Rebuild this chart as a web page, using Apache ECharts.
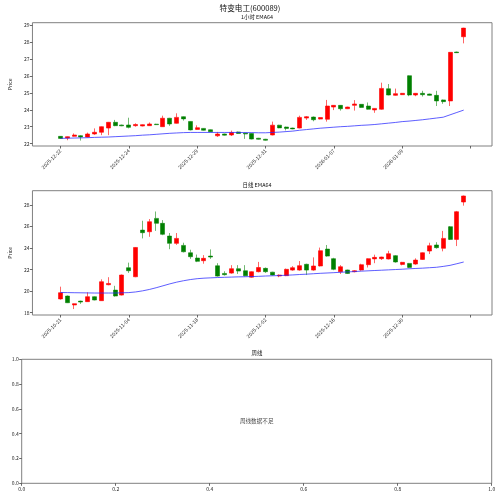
<!DOCTYPE html>
<html><head><meta charset="utf-8">
<script src="https://cdn.jsdelivr.net/npm/echarts@6/dist/echarts.min.js"></script>
<style>html,body{margin:0;padding:0;background:#fff}#c{width:500px;height:497px}</style>
</head><body><div id="c"></div>
<script>
// ---------- DATA ----------
const hourlyDates = [
 '2025-12-22','2025-12-22','2025-12-22','2025-12-22',
 '2025-12-23','2025-12-23','2025-12-23','2025-12-23',
 '2025-12-24','2025-12-24','2025-12-24','2025-12-24',
 '2025-12-25','2025-12-25','2025-12-25','2025-12-25',
 '2025-12-26','2025-12-26','2025-12-26','2025-12-26',
 '2025-12-29','2025-12-29','2025-12-29','2025-12-29',
 '2025-12-30','2025-12-30','2025-12-30','2025-12-30',
 '2025-12-31','2025-12-31','2025-12-31','2025-12-31',
 '2026-01-05','2026-01-05','2026-01-05','2026-01-05',
 '2026-01-06','2026-01-06','2026-01-06','2026-01-06',
 '2026-01-07','2026-01-07','2026-01-07','2026-01-07',
 '2026-01-08','2026-01-08','2026-01-08','2026-01-08',
 '2026-01-09','2026-01-09','2026-01-09','2026-01-09',
 '2026-01-12','2026-01-12','2026-01-12','2026-01-12',
 '2026-01-13','2026-01-13','2026-01-13','2026-01-13'
];
// [open, close, low, high]
const hourlyOHLC = [
 [22.43,22.31,22.29,22.45],[22.33,22.41,22.20,22.43],[22.43,22.51,22.41,22.60],[22.47,22.39,22.18,22.50],
 [22.39,22.57,22.37,22.65],[22.57,22.67,22.52,22.90],[22.67,23.00,22.50,23.02],[22.92,23.26,22.50,23.28],
 [23.26,23.06,23.03,23.40],[23.10,23.05,23.03,23.12],[23.10,22.96,22.90,23.53],[23.06,23.13,23.00,23.20],
 [23.04,23.12,23.02,23.14],[23.06,23.16,23.04,23.25],[23.15,23.12,23.10,23.17],[23.00,23.50,22.98,23.65],
 [23.50,23.16,23.05,23.52],[23.20,23.55,23.18,23.79],[23.59,23.46,23.36,23.61],[23.31,22.81,22.78,23.33],
 [22.84,22.94,22.82,23.08],[22.90,22.79,22.77,22.92],[22.82,22.70,22.68,22.84],[22.46,22.57,22.40,22.69],
 [22.57,22.50,22.48,22.59],[22.51,22.66,22.45,22.77],[22.69,22.60,22.58,22.71],[22.62,22.57,22.28,22.64],
 [22.60,22.27,22.25,22.62],[22.32,22.26,22.24,22.34],[22.26,22.20,22.18,22.28],[22.51,23.09,22.49,23.30],
 [23.09,22.93,22.91,23.11],[22.98,22.90,22.78,23.00],[22.92,22.87,22.85,22.94],[22.92,23.55,22.90,23.65],
 [23.51,23.59,23.40,23.63],[23.57,23.41,23.32,23.60],[23.45,23.54,23.43,23.56],[23.44,24.22,23.30,24.58],
 [24.16,24.26,23.98,24.28],[24.26,24.06,23.95,24.28],[24.06,24.16,24.04,24.18],[24.26,24.34,23.95,24.57],
 [24.32,24.14,24.12,24.34],[24.22,24.03,24.01,24.43],[23.99,24.08,23.82,24.10],[24.03,25.26,24.00,25.60],
 [25.24,24.87,24.85,25.52],[24.85,24.95,24.83,25.25],[24.89,24.97,24.87,24.99],[26.01,24.87,24.80,26.03],
 [24.87,24.97,24.80,24.99],[24.97,24.89,24.78,25.12],[24.93,24.85,24.83,24.95],[24.85,24.52,24.22,25.12],
 [24.58,24.48,24.35,24.60],[24.52,27.39,24.22,27.41],[27.41,27.37,27.35,27.43],[28.31,28.82,27.92,28.84]
];
const hourlyEMA = [
 22.31,22.32,22.33,22.34,22.35,22.37,22.38,22.39,22.41,22.43,
 22.45,22.47,22.50,22.52,22.55,22.58,22.61,22.63,22.65,22.66,
 22.66,22.66,22.66,22.66,22.66,22.66,22.66,22.65,22.65,22.64,
 22.64,22.66,22.68,22.71,22.74,22.79,22.83,22.87,22.91,22.94,
 22.97,23.00,23.02,23.05,23.08,23.10,23.13,23.17,23.21,23.25,
 23.30,23.33,23.37,23.41,23.46,23.51,23.56,23.70,23.84,23.98
];
const dailyDates = [
 '2025-10-21','2025-10-22','2025-10-23','2025-10-24','2025-10-27','2025-10-28','2025-10-29','2025-10-30','2025-10-31','2025-11-03',
 '2025-11-04','2025-11-05','2025-11-06','2025-11-07','2025-11-10','2025-11-11','2025-11-12','2025-11-13','2025-11-14','2025-11-17',
 '2025-11-18','2025-11-19','2025-11-20','2025-11-21','2025-11-24','2025-11-25','2025-11-26','2025-11-27','2025-11-28','2025-12-01',
 '2025-12-02','2025-12-03','2025-12-04','2025-12-05','2025-12-08','2025-12-09','2025-12-10','2025-12-11','2025-12-12','2025-12-15',
 '2025-12-16','2025-12-17','2025-12-18','2025-12-19','2025-12-22','2025-12-23','2025-12-24','2025-12-25','2025-12-26','2025-12-29',
 '2025-12-30','2025-12-31','2026-01-05','2026-01-06','2026-01-07','2026-01-08','2026-01-09','2026-01-12','2026-01-13','2026-01-14'
];
const dailyOHLC = [
 [19.28,19.86,19.22,20.42],[19.55,18.93,18.90,19.60],[18.72,18.84,18.34,18.86],[19.08,18.99,18.82,19.12],
 [19.03,19.49,19.00,19.90],[19.49,19.18,19.15,19.52],[19.12,20.88,19.10,21.10],[20.60,20.72,20.55,21.30],
 [20.10,19.55,19.50,20.50],[19.64,21.50,19.60,21.55],[22.18,21.90,21.70,22.65],[21.34,24.06,21.30,24.10],
 [25.67,25.43,24.90,26.54],[25.52,26.45,25.05,26.70],[26.76,26.30,25.60,27.40],[26.30,25.28,25.20,26.60],
 [25.12,24.44,23.90,25.40],[24.44,24.90,24.30,25.40],[24.25,23.66,23.60,24.50],[23.57,23.20,23.00,23.85],
 [23.08,22.77,22.70,23.40],[22.83,23.05,22.55,23.35],[23.26,23.17,23.00,23.88],[22.36,21.40,21.35,22.60],
 [21.65,21.53,21.45,21.85],[21.68,22.09,21.62,22.42],[22.09,21.87,21.60,22.42],[21.90,21.43,21.38,22.42],
 [21.30,21.81,21.25,21.85],[21.81,22.20,21.75,22.72],[22.12,21.81,21.70,22.20],[21.77,21.50,21.45,21.80],
 [21.41,21.50,21.30,21.55],[21.44,22.03,21.40,22.10],[21.96,22.18,21.90,22.33],[21.96,22.37,21.90,22.80],
 [22.50,21.96,21.50,22.55],[21.96,22.34,21.90,23.14],[22.34,23.76,22.30,24.05],[23.91,23.26,23.20,24.29],
 [23.02,22.03,21.95,23.10],[21.81,22.27,21.60,22.42],[21.97,21.65,21.60,22.00],[21.81,21.90,21.75,21.95],
 [21.96,22.46,21.90,22.55],[22.46,23.02,22.20,23.05],[23.00,23.14,22.60,23.39],[23.02,23.17,22.90,23.20],
 [22.99,23.48,22.95,23.75],[23.30,22.71,22.65,23.35],[22.49,22.68,22.40,22.72],[22.58,22.21,22.15,22.62],
 [22.52,22.89,22.45,23.05],[22.95,23.57,22.90,23.60],[23.73,24.22,23.45,24.50],[24.29,24.04,23.95,24.55],
 [23.98,24.90,23.70,25.60],[25.99,24.81,24.75,26.05],[24.81,27.38,24.19,27.45],[28.28,28.84,27.94,28.88]
];
const dailyEMA = [
 19.88,19.87,19.86,19.85,19.84,19.83,19.83,19.83,19.83,19.85,
 19.87,19.93,20.03,20.16,20.32,20.50,20.68,20.84,20.97,21.08,
 21.16,21.21,21.24,21.27,21.29,21.31,21.33,21.34,21.36,21.38,
 21.41,21.43,21.45,21.48,21.51,21.55,21.58,21.62,21.66,21.69,
 21.72,21.76,21.79,21.82,21.86,21.89,21.92,21.95,21.98,22.01,
 22.04,22.08,22.11,22.14,22.18,22.22,22.30,22.40,22.55,22.71
];
const hourlyYTicks = [22,23,24,25,26,27,28,29];
const dailyYTicks = [18,20,22,24,26,28];
const xTickStep = 10;
const weeklyMessage = '周线数据不足';

// ---------- CHART ----------
const FONT = '"Noto Sans CJK SC", "DejaVu Sans", sans-serif';
const TICKFS = 5;
const upColor = '#ff0000', downColor = '#008000';

function xTicks(n){ const a=[]; for(let v=0; v<=n; v+=xTickStep) a.push(v); return a; }
function candles(ohlc){ return ohlc.map((d,i)=>[i,d[0],d[1],d[2],d[3]]); }
function line(v){ return v.map((y,i)=>[i,y]); }

const gridDefs = [
  {left:21.3, top:22.7, width:470.7, height:123.3},
  {left:21.3, top:190.7, width:470.7, height:124.3},
  {left:21.7, top:359.3, width:470, height:124}
];
const frame = {show:true, borderColor:'#808080', borderWidth:1, backgroundColor:'#fff'};
const tickStyle = {show:true, length:2.5, lineStyle:{color:'#444', width:0.8}};

function xAxisFor(gi, dates){
  const ticks = xTicks(dates.length);
  return {
    type:'value', gridIndex:gi, min:-4.1, max:63.14,
    axisLine:{show:false, onZero:false}, splitLine:{show:false},
    axisTick:Object.assign({customValues:ticks}, tickStyle),
    axisLabel:{show:true, customValues:ticks.filter(v=>v<dates.length), rotate:45, fontSize:TICKFS, fontFamily:FONT, color:'#222', margin:4,
      formatter:(v)=>dates[Math.round(v)]||''}
  };
}
function yAxisFor(gi, ticks, min, max){
  return {
    type:'value', gridIndex:gi, min:min, max:max, position:'left',
    name:'Price', nameLocation:'middle', nameGap:14, nameRotate:90,
    nameTextStyle:{fontSize:TICKFS, fontFamily:FONT, color:'#222'},
    axisLine:{show:false, onZero:false}, splitLine:{show:false},
    axisTick:Object.assign({customValues:ticks}, tickStyle),
    axisLabel:{show:true, customValues:ticks, fontSize:TICKFS, fontFamily:FONT, color:'#222', margin:3}
  };
}
const candleStyle = {color:upColor, color0:downColor, borderColor:'rgba(255,0,0,0.6)', borderColor0:'rgba(0,128,0,0.55)', borderWidth:1};

const option = {
  animation:false,
  backgroundColor:'#fff',
  grid: gridDefs.map(g=>Object.assign({}, g, frame)),
  xAxis:[
    xAxisFor(0, hourlyDates),
    xAxisFor(1, dailyDates),
    {type:'value', gridIndex:2, min:0, max:1, interval:0.2, splitLine:{show:false}, axisLine:{show:false, onZero:false},
     axisTick:tickStyle,
     axisLabel:{fontSize:TICKFS, fontFamily:FONT, color:'#222', margin:3, formatter:v=>v.toFixed(1)}}
  ],
  yAxis:[
    yAxisFor(0, hourlyYTicks, 21.86, 29.14),
    yAxisFor(1, dailyYTicks, 17.79, 29.33),
    {type:'value', gridIndex:2, min:0, max:1, interval:0.2, splitLine:{show:false}, axisLine:{show:false, onZero:false},
     axisTick:tickStyle,
     axisLabel:{fontSize:TICKFS, fontFamily:FONT, color:'#222', margin:3, formatter:v=>v.toFixed(1)}}
  ],
  graphic:[
    {type:'text', x:250, y:8, style:{text:'特变电工(600089)', font:'7.6px '+FONT, fill:'#111', textAlign:'center', textVerticalAlign:'middle'}},
    {type:'text', x:257, y:17, style:{text:'1小时 EMA64', font:'5.4px '+FONT, fill:'#111', textAlign:'center', textVerticalAlign:'middle'}},
    {type:'text', x:257, y:185, style:{text:'日线 EMA64', font:'5.4px '+FONT, fill:'#111', textAlign:'center', textVerticalAlign:'middle'}},
    {type:'text', x:257, y:353.3, style:{text:'周线', font:'5.4px '+FONT, fill:'#111', textAlign:'center', textVerticalAlign:'middle'}}
  ],
  series:[
    {type:'candlestick', xAxisIndex:0, yAxisIndex:0, data:candles(hourlyOHLC), encode:{x:0, y:[1,2,3,4]}, barWidth:4.5, itemStyle:candleStyle},
    {type:'line', xAxisIndex:0, yAxisIndex:0, data:line(hourlyEMA), showSymbol:false, smooth:false, lineStyle:{color:'rgba(40,40,255,0.75)', width:1}},
    {type:'candlestick', xAxisIndex:1, yAxisIndex:1, data:candles(dailyOHLC), encode:{x:0, y:[1,2,3,4]}, barWidth:4.5, itemStyle:candleStyle},
    {type:'line', xAxisIndex:1, yAxisIndex:1, data:line(dailyEMA), showSymbol:false, smooth:false, lineStyle:{color:'rgba(40,40,255,0.75)', width:1}},
    {type:'scatter', xAxisIndex:2, yAxisIndex:2, data:[[0.5,0.5]], symbolSize:0,
     label:{show:true, position:'inside', formatter:weeklyMessage, fontSize:5.6, fontFamily:FONT, color:'#111'}}
  ]
};
const chart = echarts.init(document.getElementById('c'), null, {renderer:'canvas'});
chart.setOption(option);
</script></body></html>
